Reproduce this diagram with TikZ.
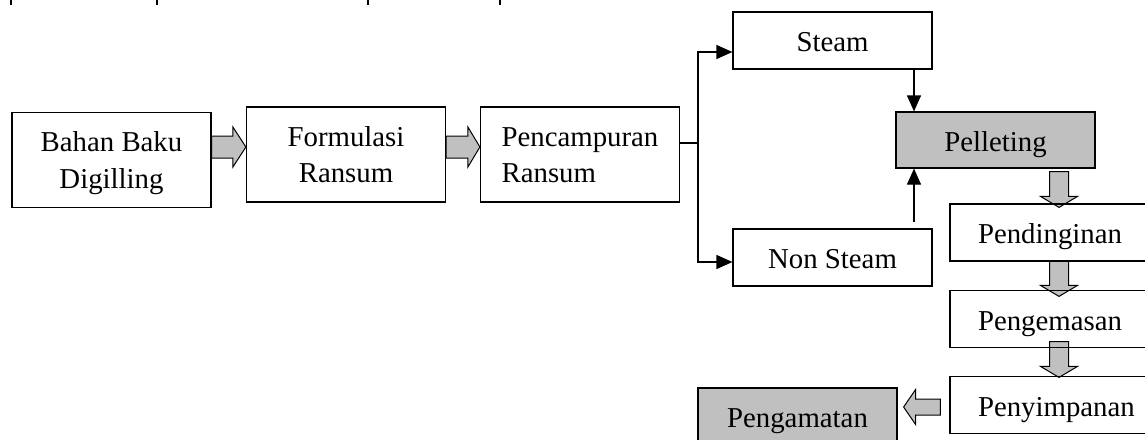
\documentclass[tikz,border=0pt]{standalone}
\usepackage{fontspec}
\setmainfont{Liberation Serif}
\usetikzlibrary{calc,arrows.meta,backgrounds}
\definecolor{boxgray}{HTML}{C0C0C0}
\tikzset{
  box/.style={draw, line width=1.2pt, minimum width=199pt, minimum height=57pt,
    inner sep=0pt, font=\fontsize{28.8}{36.5}\selectfont, text height=24pt, text depth=2pt},
  twoline/.style={box, minimum height=95pt, align=center, text height=60pt, text depth=4pt},
  rbox/.style={box, text width=159pt, align=left, inner xsep=28pt},
  grey/.style={fill=boxgray},
  arr/.style={line width=1.2pt, -{Triangle[length=16pt,width=14pt]}},
  fat/.style={draw, fill=boxgray, line width=1pt},
}
% fat grey arrow: from, to, half shaft, half head, head length
\newcommand\fatarrow[5]{%
  \draw[fat] let \p1=(#1), \p2=(#2),
      \n1={atan2(\y2-\y1,\x2-\x1)}, \n2={veclen(\x2-\x1,\y2-\y1)} in
    ($(\p1)+(\n1+90:#3)$) -- ($(\p1)+(\n1:\n2-#5)+(\n1+90:#3)$)
    -- ($(\p1)+(\n1:\n2-#5)+(\n1+90:#4)$) -- (\p2)
    -- ($(\p1)+(\n1:\n2-#5)+(\n1-90:#4)$)
    -- ($(\p1)+(\n1:\n2-#5)+(\n1-90:#3)$)
    -- ($(\p1)+(\n1-90:#3)$) -- cycle;}
\begin{document}
\begin{tikzpicture}[x=1pt,y=-1pt]
  \clip (0,0) rectangle (1145,439);
  \foreach \tx in {11,157,368,500}
    \draw[line width=1.5pt] (\tx,0) -- (\tx,5);

  \node[twoline] (bahan) at (111.5,160) {Bahan Baku\\Digilling};
  \node[twoline] (form) at (346,154.5) {Formulasi\\Ransum};
  \node[twoline, align=left, inner xsep=20pt] (pcm) at (580,154.5) {Pencampuran\\Ransum};
  \node[box] (steam) at (832.5,40.5) {Steam};
  \node[box, grey, minimum height=56pt] (pell) at (995.5,140) {Pelleting};
  \node[box] (nonst) at (832.5,257.5) {Non Steam};
  \node[rbox] (pend) at (1057.5,232.5) {Pendinginan};
  \node[rbox] (peng) at (1057.5,319) {Pengemasan};
  \node[rbox] (peny) at (1057.5,405) {Penyimpanan};
  \node[box, grey, minimum height=56pt] (pgmt) at (797.5,416) {Pengamatan};

  \coordinate (hrow) at (0,147);
  \coordinate (split) at (698,143);
  \coordinate (scol) at (914,0);
  \coordinate (dcol) at (1059,0);
  \coordinate (lrow) at (0,407);

  % thin arrows
  \draw[line width=1.2pt] (pcm.east |- split) -- (split);
  \draw[arr] (split) |- ($(steam.west)+(0,11.5)$);
  \draw[arr] (split) |- ($(nonst.west)+(0,4.5)$);
  \draw[arr] (steam.south -| scol) -- (pell.north -| scol);
  \draw[arr] ($(nonst.north -| scol)+(0,-6)$) -- (pell.south -| scol);

  % grey arrows
  \begin{pgfonlayer}{background}
    \fatarrow{bahan.east |- hrow}{form.west |- hrow}{11pt}{20pt}{13pt}
    \fatarrow{form.east |- hrow}{pcm.west |- hrow}{11pt}{20pt}{12pt}
    \fatarrow{$(pell.south -| dcol)+(0,3)$}{$(pend.north -| dcol)+(0,4)$}{9.5pt}{18.5pt}{11pt}
    \fatarrow{$(pend.south -| dcol)+(0,-1)$}{$(peng.north -| dcol)+(0,6.5)$}{9.5pt}{18.5pt}{11pt}
    \fatarrow{$(peng.south -| dcol)+(0,-6.5)$}{$(peny.north -| dcol)+(0,1.5)$}{9.5pt}{18.5pt}{11pt}
    \fatarrow{$(peny.west |- lrow)+(-9,0)$}{$(pgmt.east |- lrow)+(6,0)$}{8pt}{17.5pt}{12pt}
  \end{pgfonlayer}
\end{tikzpicture}
\end{document}
